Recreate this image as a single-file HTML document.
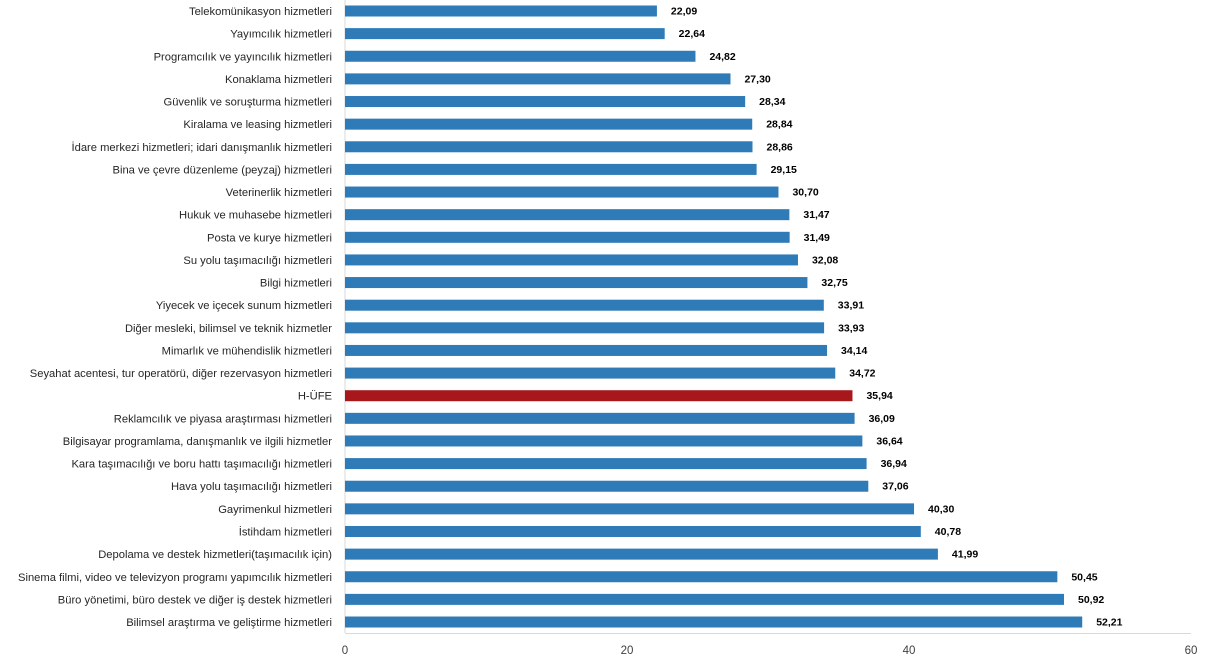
<!DOCTYPE html>
<html><head><meta charset="utf-8"><style>
html,body{margin:0;padding:0;background:#fff;}
svg{display:block;font-family:"Liberation Sans",Arial,sans-serif;}
.l{font-size:11.2px;fill:#262626;text-anchor:end;}
.v{font-size:10.5px;font-weight:bold;fill:#000;}
.t{font-size:11.5px;fill:#404040;text-anchor:middle;}
</style></head><body>
<svg width="1208" height="667" viewBox="0 0 1208 667">
<line x1="345" y1="0" x2="345" y2="633" stroke="#d9d9d9" stroke-width="1"/>
<line x1="345" y1="633.5" x2="1191" y2="633.5" stroke="#d9d9d9" stroke-width="1"/>
<g id="bars"></g>
<text class="t" x="345" y="654">0</text>
<text class="t" x="627" y="654">20</text>
<text class="t" x="909" y="654">40</text>
<text class="t" x="1191" y="654">60</text>
</svg>
<script>
var d=[["Telekomünikasyon hizmetleri",22.09],["Yayımcılık hizmetleri",22.64],["Programcılık ve yayıncılık hizmetleri",24.82],["Konaklama hizmetleri",27.30],["Güvenlik ve soruşturma hizmetleri",28.34],["Kiralama ve leasing hizmetleri",28.84],["İdare merkezi hizmetleri; idari danışmanlık hizmetleri",28.86],["Bina ve çevre düzenleme (peyzaj) hizmetleri",29.15],["Veterinerlik hizmetleri",30.70],["Hukuk ve muhasebe hizmetleri",31.47],["Posta ve kurye hizmetleri",31.49],["Su yolu taşımacılığı hizmetleri",32.08],["Bilgi hizmetleri",32.75],["Yiyecek ve içecek sunum hizmetleri",33.91],["Diğer mesleki, bilimsel ve teknik hizmetler",33.93],["Mimarlık ve mühendislik hizmetleri",34.14],["Seyahat acentesi, tur operatörü, diğer rezervasyon hizmetleri",34.72],["H-ÜFE",35.94],["Reklamcılık ve piyasa araştırması hizmetleri",36.09],["Bilgisayar programlama, danışmanlık ve ilgili hizmetler",36.64],["Kara taşımacılığı ve boru hattı taşımacılığı hizmetleri",36.94],["Hava yolu taşımacılığı hizmetleri",37.06],["Gayrimenkul hizmetleri",40.30],["İstihdam hizmetleri",40.78],["Depolama ve destek hizmetleri(taşımacılık için)",41.99],["Sinema filmi, video ve televizyon programı yapımcılık hizmetleri",50.45],["Büro yönetimi, büro destek ve diğer iş destek hizmetleri",50.92],["Bilimsel araştırma ve geliştirme hizmetleri",52.21]];
var g=document.getElementById("bars"),h="";
d.forEach(function(r,i){var c=11+i*22.63,w=r[1]*14.12;
h+='<rect x="345" y="'+(c-5.5).toFixed(2)+'" width="'+w.toFixed(2)+'" height="11" fill="'+(r[0]=="H-ÜFE"?"#A8171C":"#2E7BB8")+'"/>';
h+='<text class="l" x="332" y="'+(c+4).toFixed(2)+'">'+r[0]+'</text>';
h+='<text class="v" x="'+(345+w+14).toFixed(2)+'" y="'+(c+3.5).toFixed(2)+'">'+r[1].toFixed(2).replace(".",",")+'</text>';});
g.innerHTML=h;
</script>
</body></html>
